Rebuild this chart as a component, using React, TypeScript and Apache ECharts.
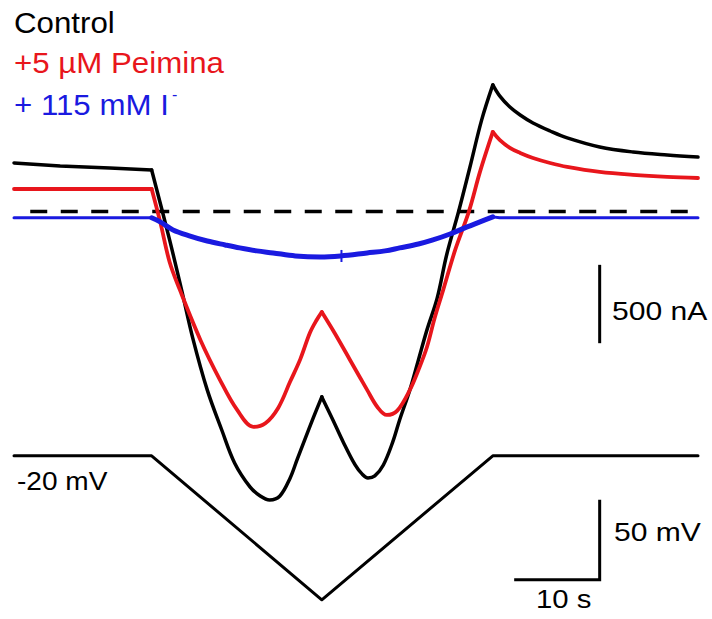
import React, { useEffect, useRef } from 'react';
import * as echarts from 'echarts';

// time (s) vs current (nA)
const controlCurrent: number[][] = [
  [0, 310], [5.4, 291], [11.2, 278], [16.1, 265], [18.2, -181], [19.6, -500], [20.9, -806],
  [22.6, -1138], [24.3, -1394], [25.8, -1604], [27.6, -1757], [28.8, -1815], [29.9, -1840],
  [31.1, -1815], [32.3, -1700], [33.1, -1585], [34.0, -1457], [35.0, -1317], [36.0, -1183],
  [37.3, -1330], [38.5, -1470], [39.9, -1617], [40.7, -1674], [41.4, -1700], [42.2, -1687],
  [43.2, -1617], [44.3, -1470], [45.1, -1330], [46.3, -1138], [47.3, -947], [48.3, -755],
  [49.5, -551], [50.6, -277], [52.0, 0], [53.3, 278], [54.7, 585], [56.0, 808], [56.8, 738],
  [58.0, 667], [59.2, 616], [60.7, 565], [62.7, 514], [64.7, 470], [68.5, 412], [72.4, 380],
  [76.4, 361], [80, 348],
];

const peiminaCurrent: number[][] = [
  [0, 144], [16.1, 144], [17.1, -66], [18.2, -322], [19.4, -500], [21.8, -819], [24.1, -1075],
  [26.1, -1266], [28.0, -1374], [29.4, -1351], [30.9, -1253], [32.3, -1085], [33.5, -940],
  [34.6, -775], [35.4, -692], [36.0, -641], [37.5, -775], [39.3, -947],
  [40.5, -1062], [41.3, -1138], [42.5, -1247], [43.6, -1298], [44.8, -1272], [46.3, -1138],
  [47.3, -1011], [48.3, -864], [49.2, -679], [50.2, -500], [51.6, -245], [53.2, 0],
  [54.5, 253], [56.0, 508], [56.8, 457], [58.0, 406], [59.2, 374], [60.7, 342], [62.7, 310],
  [64.7, 285], [68.5, 253], [72.4, 234], [76.4, 221], [80, 214],
];

const iodideBefore: number[][] = [[0, -40], [16.1, -40]];
const iodideRamp: number[][] = [
  [16.1, -40], [17.1, -66], [18.6, -117], [20.6, -156], [22.6, -188], [24.7, -213],
  [26.4, -232], [28.4, -251], [30.3, -264], [32.9, -283], [35.8, -290], [38.2, -283],
  [41.3, -264], [43.4, -251], [45.1, -232], [47.3, -207], [49.0, -181], [51.0, -143],
  [53.0, -98], [54.5, -66], [56.0, -34],
];
const iodideArtifact: number[][] = [[38.3, -245], [38.3, -322]];
const iodideAfter: number[][] = [[56.0, -34], [56.8, -40], [80, -40]];

const zeroCurrent: number[][] = [[1.9, 0], [80, 0]];

// time (s) vs voltage (mV)
const voltageProtocol: number[][] = [[0, -20], [16.1, -20], [36, -110], [56, -20], [80, -20]];

// scale bars
const currentScaleBar: number[][] = [[68.5, -340], [68.5, -840]]; // 500 nA
const voltageTimeScaleBar: number[][] = [[68.5, -47.5], [68.5, -97.5], [58.5, -97.5]]; // 50 mV, 10 s

// protocol phase boundaries (s)
const phaseTimes = [0, 16.1, 36, 56, 80];

const legendLabels = ['Control', '+5 µM Peimina', '+ 115 mM I'];
const scaleLabels = ['500 nA', '50 mV', '10 s', '-20 mV'];

const BLACK = '#000000';
const RED = '#e8161c';
const BLUE = '#1a1ae0';
const FONT = '"Liberation Sans", Arial, Helvetica, sans-serif';

function lineSeries(data: number[][], color: string, width: number, yAxisIndex = 0, extra: any = {}, smooth: any = false) {
  return {
    type: 'line',
    data,
    yAxisIndex,
    showSymbol: false,
    symbol: 'none',
    silent: true,
    smooth,
    lineStyle: { color, width, cap: 'round', join: 'round', ...extra },
  };
}

function phases(data: number[][], color: string, width: number) {
  const out: any[] = [];
  for (let i = 0; i < phaseTimes.length - 1; i++) {
    const a = phaseTimes[i];
    const b = phaseTimes[i + 1];
    const seg = data.filter((p) => p[0] >= a - 1e-6 && p[0] <= b + 1e-6);
    out.push(lineSeries(seg, color, width, 0, {}, i === 0 ? false : 0.35));
  }
  return out;
}

function txt(text: string, x: number, y: number, size: number, color: string, sx = 1.06) {
  return {
    type: 'text',
    x,
    y,
    scaleX: sx,
    silent: true,
    style: {
      text,
      fill: color,
      font: `${size}px ${FONT}`,
      fontSize: size,
      fontFamily: FONT,
      textAlign: 'left',
      align: 'left',
      textVerticalAlign: 'middle',
      verticalAlign: 'middle',
    },
  };
}

export default function App() {
  const ref = useRef<HTMLDivElement>(null);
  useEffect(() => {
    const chart = echarts.init(ref.current!, null, { renderer: 'svg' });
    chart.setOption({
      animation: false,
      backgroundColor: '#ffffff',
      grid: { left: 14, right: 14, top: 0, bottom: 0 },
      xAxis: { type: 'value', min: 0, max: 80, show: false },
      yAxis: [
        { type: 'value', min: -2600, max: 1350, show: false },
        { type: 'value', min: -122, max: 265, show: false },
      ],
      series: [
        lineSeries(zeroCurrent, BLACK, 3.5, 0, { type: [17, 13.5], cap: 'butt' }),
        ...phases(controlCurrent, BLACK, 3.5),
        ...phases(peiminaCurrent, RED, 3.8),
        lineSeries(iodideBefore, BLUE, 3),
        lineSeries(iodideRamp, BLUE, 5, 0, {}, 0.35),
        lineSeries(iodideArtifact, BLUE, 2, 0, { cap: 'butt' }),
        lineSeries(iodideAfter, BLUE, 3),
        lineSeries(voltageProtocol, BLACK, 3, 1),
        lineSeries(currentScaleBar, BLACK, 3, 0, { cap: 'butt' }),
        lineSeries(voltageTimeScaleBar, BLACK, 3, 1, { cap: 'butt', join: 'miter' }),
      ],
      graphic: [
        txt(legendLabels[0], 14, 22, 29.5, BLACK),
        txt(legendLabels[1], 14, 62, 29.5, RED),
        txt(legendLabels[2], 14, 104, 29.5, BLUE),
        txt('-', 172, 94, 16, BLUE, 1),
        txt(scaleLabels[0], 612, 311, 25.5, BLACK, 1.18),
        txt(scaleLabels[1], 614, 532, 25.5, BLACK, 1.18),
        txt(scaleLabels[2], 536, 599, 25.5, BLACK, 1.15),
        txt(scaleLabels[3], 17, 481, 25.5, BLACK, 1.1),
      ],
    });
    return () => chart.dispose();
  }, []);
  return (
    <div
      ref={ref}
      style={{ position: 'absolute', left: 0, top: 0, width: 712, height: 619, background: '#fff' }}
    />
  );
}
